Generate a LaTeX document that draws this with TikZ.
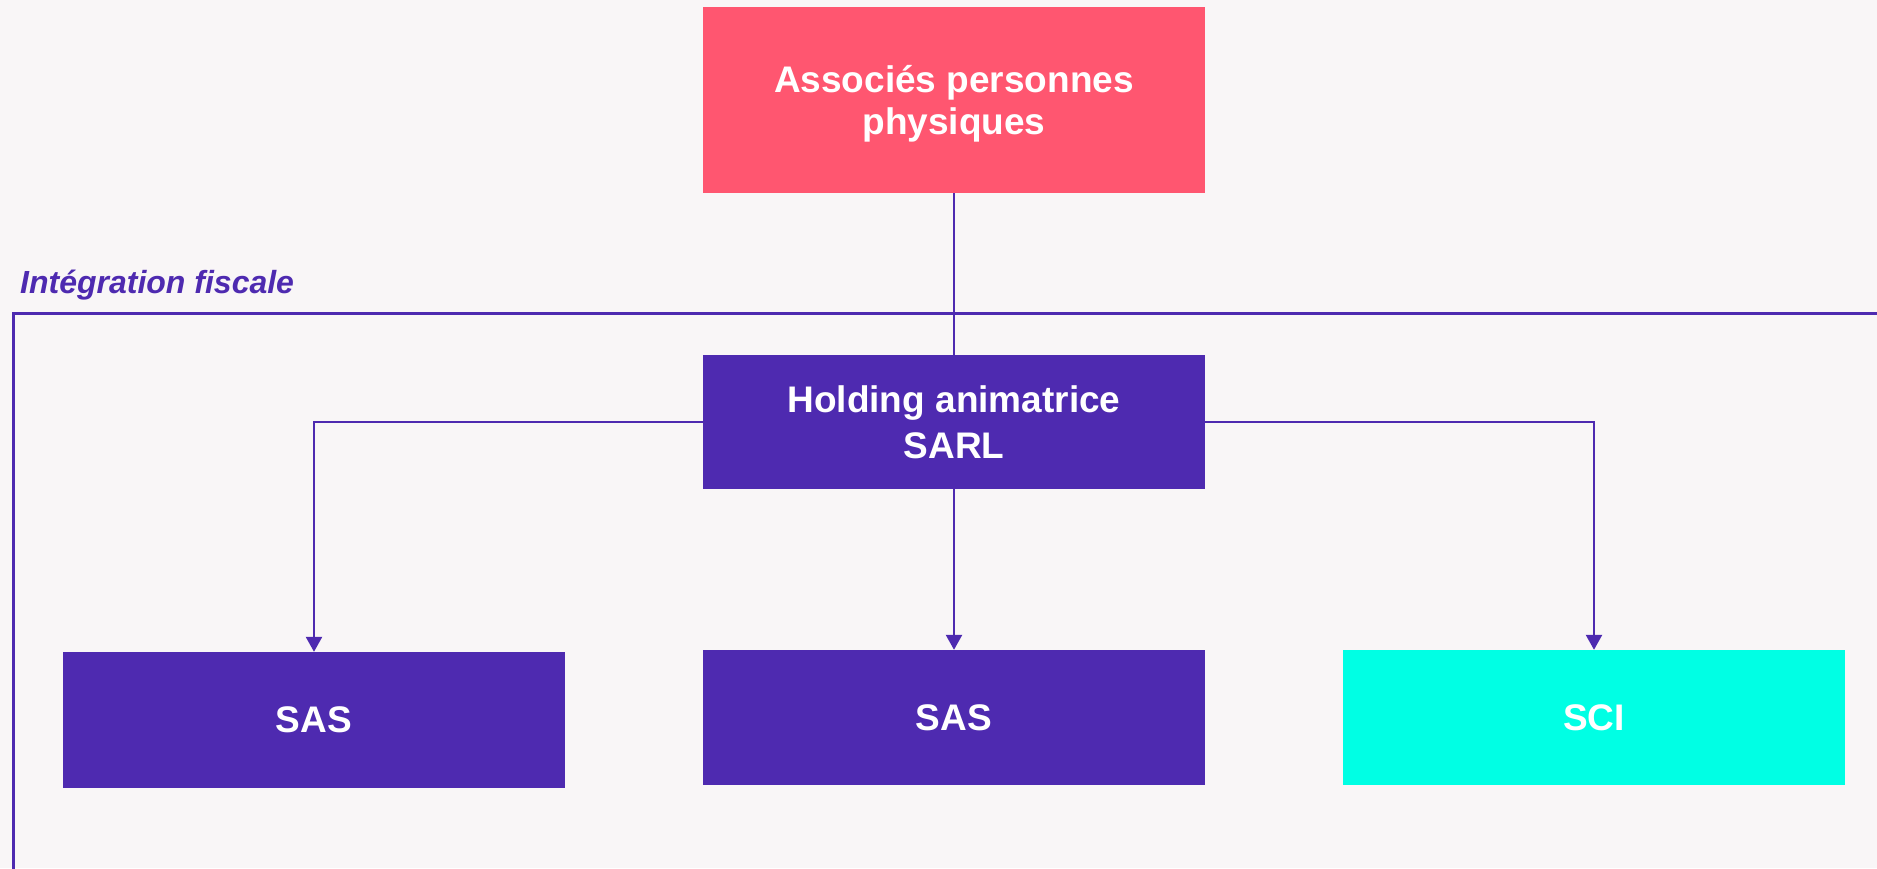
\documentclass[tikz,border=0pt]{standalone}
\usepackage{fontspec}
\setmainfont{Liberation Sans}
\usetikzlibrary{arrows.meta}
\definecolor{bgc}{HTML}{F9F6F7}
\definecolor{pinkc}{HTML}{FF5670}
\definecolor{purplec}{HTML}{4E2AB0}
\definecolor{cyanc}{HTML}{00FFE4}
\tikzset{
  entity/.style={rectangle, inner sep=0pt, minimum width=502pt, text=white,
    align=center, font=\bfseries\fontsize{37}{46}\selectfont},
  conn/.style={draw=purplec, line width=2.5pt},
  arr/.style={conn, -{Triangle[width=16pt,length=15pt]}}
}
\begin{document}
\begin{tikzpicture}[x=1pt,y=1pt]
\fill[bgc] (0,0) rectangle (1877,-868);
\useasboundingbox (0,0) rectangle (1877,-868);
\begin{scope}
\clip (0,0) rectangle (1877,-868);
\coordinate (fbl) at (13,-880);
\coordinate (ftl) at (13,-313);
\coordinate (ftr) at (1890,-313);
\draw[draw=purplec, line width=3pt] (fbl) -- (ftl) -- (ftr);
\end{scope}
\node[anchor=base west, text=purplec, font=\bfseries\itshape\fontsize{32}{38}\selectfont, inner sep=0pt] (lbl) at (20,-293) {Intégration fiscale};

\node[entity, fill=pinkc, minimum height=186pt] (top) at (954,-100) {};
\node[entity, font=\bfseries\fontsize{37}{42}\selectfont] (toptext) at (954,-104) {Associés personnes\\physiques};
\node[entity, fill=purplec, minimum height=134pt] (hold) at (954,-422) {Holding animatrice\\SARL};
\node[entity, fill=purplec, minimum height=136pt] (sas1) at (314,-720) {SAS};
\node[entity, fill=purplec, minimum height=135pt] (sas2) at (954,-717.5) {SAS};
\node[entity, fill=cyanc, minimum height=135pt] (sci) at (1594,-717.5) {SCI};

\draw[conn] (top.south) -- (hold.north);
\draw[arr] (hold.west) -| (sas1.north);
\draw[arr] (hold.south) -- (sas2.north);
\draw[arr] (hold.east) -| (sci.north);
\end{tikzpicture}
\end{document}
